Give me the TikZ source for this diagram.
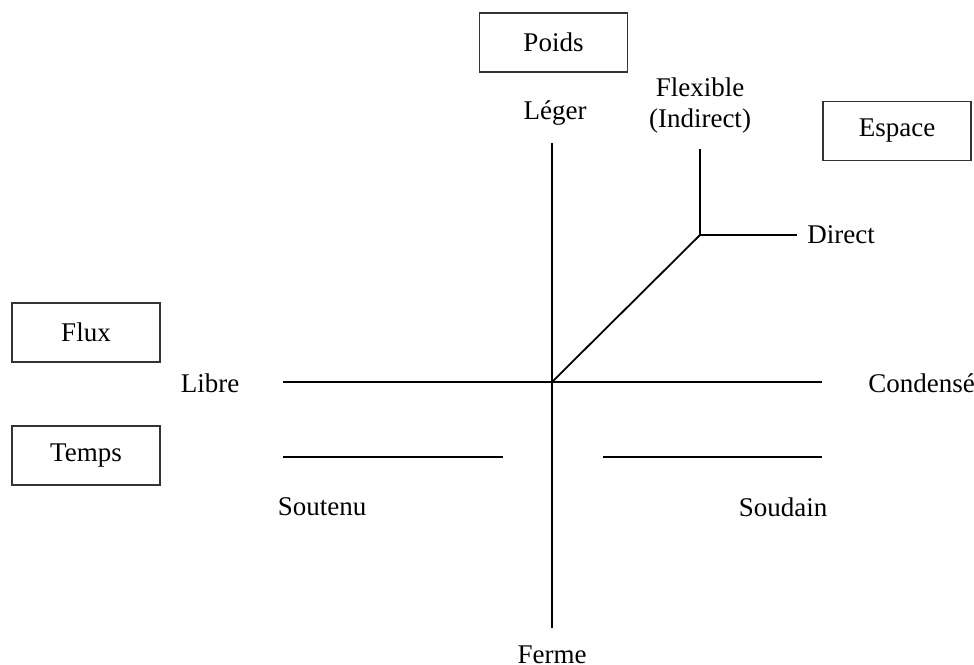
\documentclass[tikz,border=0pt]{standalone}
\usepackage{fontspec}
\setmainfont{Liberation Serif}
\usepackage{tikz}
\usetikzlibrary{positioning,calc}
\tikzstyle{factor}=[draw=black!80, line width=0.6pt, minimum width=74pt, minimum height=29.5pt, inner sep=0pt]
\tikzstyle{axe}=[line width=0.9pt]
\tikzstyle{pole}=[inner sep=1pt]

\begin{document}
\begin{tikzpicture}[x=0.5pt,y=-0.5pt,font=\fontsize{13.5}{16}\selectfont]
\useasboundingbox (0,0) rectangle (974,664);
% boxes
\foreach \n/\t/\x/\y in {poids/Poids/553.5/42.5, espace/Espace/897/131, flux/Flux/86/332.5, temps/Temps/86/455.5} {
	\node[factor] (\n) at (\x,\y) {\t};
}
% axes
\coordinate (o) at (552,382);
\coordinate (haut) at (552,143);
\coordinate (bas) at (552,628);
\coordinate (gauche) at (283,382);
\coordinate (droite) at (822,382);
\coordinate (coude) at (700,235);
\coordinate (flex) at (700,149);
\coordinate (dir) at (797,235);
\foreach \a/\b in {283/503,603/822} {
	\coordinate (t\a) at (\a,457);
	\coordinate (t\b) at (\b,457);
}
\draw[axe] (haut) -- (bas);
\draw[axe] (gauche) -- (droite);
\draw[axe] (o) -- (coude) -- (flex);
\draw[axe] (coude) -- (dir);
\draw[axe] (t283) -- (t503);
\draw[axe] (t603) -- (t822);
% poles
\node[pole] (leger) at (555,113) {Léger};
\node[pole] (ferme) at (552,655) {Ferme};
\node[pole, align=center, font=\fontsize{13.5}{15.5}\selectfont] (flexible) at (700,106) {Flexible\\(Indirect)};
\node[pole, right=4pt of dir] (direct) {Direct};
\node[pole] (libre) at (210,383) {Libre};
\node[pole, anchor=west] (condense) at (866,383) {Condensé};
\node[pole] (soutenu) at (322,507) {Soutenu};
\node[pole] (soudain) at (783,507) {Soudain};
\end{tikzpicture}
\end{document}
